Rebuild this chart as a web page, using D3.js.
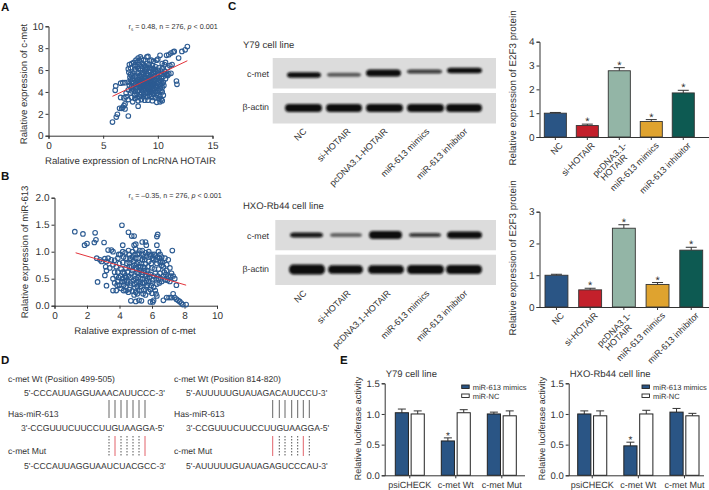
<!DOCTYPE html>
<html><head><meta charset="utf-8">
<script src="https://cdn.jsdelivr.net/npm/d3@7"></script>
<style>
html,body{margin:0;padding:0;background:#fff}
svg{display:block}
text{font-family:"Liberation Sans",Arial,sans-serif;fill:#333;text-rendering:geometricPrecision}
.axis path,.axis line{stroke:#333;stroke-width:1}
</style></head><body><svg id="c" width="709" height="490"></svg>
<script>
const scatterA=[[5.85,1.25],[6.2,1.7],[6.3,1.95],[7.3,1.8],[6.5,2.5],[6.7,2.5],[7,2.45],[6.9,2.75],[7,2.9],[6.8,2.6],[6.6,3.5],[6.9,3.45],[7.1,3.55],[7.3,3.3],[7.1,3.9],[6.1,4.15],[6.15,4.55],[6.6,4.8],[6.8,4.85],[7,4.85],[7.3,4.2],[7.5,3.9],[12.7,8.15],[12.5,7.85],[12.2,7.7],[11.9,7.1],[11.5,7.7],[11.4,7.65],[11.2,7.55],[11,7.4],[10.8,7.35],[10.2,7.35],[11.7,5],[11.75,4.7],[11.2,5.7],[11,5.65],[11.3,6.5],[11.1,6.4],[10.9,6.2],[10.7,6.7],[8.2,2.7],[7.7,3.1],[8.2,3.2],[8.5,3.3],[8.8,3.25],[9.1,3.25],[9.5,3.2],[9.9,3.05],[10.2,3.1],[10.3,3.3],[7.4,6.5],[7.5,6.2],[7.3,6.1],[7.35,5.8],[7.5,5.6],[7.6,6.6],[7.8,6.7],[8,6.9],[8.2,7.1],[8.4,7.2],[8.5,7],[9,7.2],[9.1,7.25],[9.6,6.8],[9.9,6.9],[10,7],[8.1,6.3],[8.3,6.5],[8.6,6.6],[8.8,6.4],[9.2,6.5],[9.5,6.4],[9.8,6.3],[10.1,6.2],[10.4,6.1],[10.6,5.9],[7.7,5.7],[7.9,5.9],[8.2,5.8],[8.4,6],[8.6,6.1],[8.8,5.9],[9,6.1],[9.3,5.9],[9.6,5.8],[9.8,5.9],[10,5.7],[10.3,5.6],[10.5,5.4],[10.8,5.6],[7.5,5.1],[7.7,5.2],[7.9,5.4],[8.1,5.3],[8.3,5.5],[8.5,5.4],[8.7,5.6],[8.9,5.3],[9.1,5.5],[9.3,5.4],[9.5,5.3],[9.7,5.4],[9.9,5.2],[10.1,5.3],[10.3,5],[10.5,4.9],[7.4,4.6],[7.6,4.5],[7.8,4.8],[8,4.7],[8.2,4.9],[8.4,5],[8.5,4.7],[8.7,4.9],[8.8,4.6],[8.9,5],[9,4.8],[9.1,4.6],[9.2,5],[9.3,4.7],[9.4,4.9],[9.5,4.5],[9.6,4.8],[9.7,5],[9.8,4.6],[9.9,4.8],[10,4.5],[10.2,4.7],[10.4,4.4],[7.6,4.1],[7.8,4.2],[8,4.3],[8.2,4.1],[8.4,4.4],[8.5,4.2],[8.6,4.5],[8.8,4.3],[8.9,4.1],[9,4.4],[9.1,4.2],[9.2,4.5],[9.3,4.3],[9.4,4],[9.5,4.2],[9.7,4.3],[9.8,4],[10,4.1],[10.2,4.3],[10.4,4],[10.5,3.7],[7.9,3.7],[8.1,3.8],[8.3,3.6],[8.5,3.9],[8.7,3.8],[8.9,3.6],[9,3.9],[9.2,3.7],[9.4,3.6],[9.6,3.8],[9.8,3.5],[10,3.7],[10.2,3.6],[7.6,3.5],[7.9,3.4],[10.4,3.2],[8.6,5.1],[8.8,5.2],[9.2,5.2],[9.4,5.6],[9,5.7],[8.3,5.1],[8,5],[7.3,4.9],[10.7,5.2],[10.9,5.5],[10.6,6.5],[10.4,6.6],[9.4,6.9],[8.7,6.9],[8.1,6.7],[7.6,4.9],[10.3,5.9],[10.1,5.6],[9.6,6.1],[9.3,6.2],[8.9,6.3],
[8.65,4.95],[8.75,4.75],[8.85,4.85],[8.95,4.55],[9.05,5.05],[9.15,4.75],[9.25,4.85],[9.35,4.55],[9.45,5.05],[9.55,4.65],[9.65,4.95],[9.75,4.55],[8.55,4.45],[8.65,4.25],[8.75,4.55],[8.85,4.35],[9.05,4.45],[9.15,4.35],[9.25,4.15],[9.35,4.45],[9.45,4.25],[9.55,4.35],[8.25,4.55],[8.35,4.75],[8.45,4.35],[8.05,4.45],[8.15,5.15],[8.35,5.35],[8.55,5.25],[8.75,5.45],[8.95,5.65],[9.15,5.25],[9.35,5.15],[9.55,5.55],[9.75,5.15],[9.95,5.45],[10.15,5.05],[10.25,4.55],[10.05,4.85],[9.85,4.35],[10.35,5.25],[7.95,6.1],[8.25,6.15],[8.55,5.75],[8.85,6.1],[9.15,5.85],[9.45,6.15],[9.75,6.05],[10.05,5.95],[8.1,3.5],[8.4,3.75],[8.65,3.55],[9.05,3.55],[9.3,3.95],[9.55,3.5],[9.9,3.85],[10.1,3.4],[7.55,4.35],[7.75,4.55],[7.95,4.05],[7.45,5.35],[7.65,5.45],[8.5,6.35],[9,6.6],[9.25,6.85],[8.3,6.85],[7.9,6.45],[10.3,4.15],[10.55,4.6],[10.4,4.75],[10.65,5.65]];
const lineA=[[5.85,3.6],[12.7,6.85]];
const scatterB=[[1.25,1.37],[1.75,1.33],[1.85,1.12],[2,1.15],[2.45,1.17],[2.5,1.35],[2.55,1.22],[3.05,1.17],[4.15,1.49],[4.55,1.36],[4.75,1.29],[4.9,1.29],[6.3,1.28],[6.35,1.32],[5.6,1.18],[5.4,1.18],[5.65,1.12],[6.3,1.12],[4.9,1.12],[5,1.14],[4.2,1.12],[7.25,1.02],[2.65,0.44],[3.2,0.37],[3.6,0.28],[3.8,0.28],[4.7,0.09],[5,0.08],[5.2,0.1],[5.35,0.09],[5.9,0.07],[6.05,0.07],[6.1,0.1],[6.3,0.18],[6.7,0.1],[6.9,0.15],[7.05,0.15],[7.2,0.15],[7.3,0.22],[7.5,0.12],[7.6,0.1],[7.7,0.08],[7.8,0.05],[7.9,0.02],[8.1,0.02],[7.4,0.15],[2.6,0.88],[2.8,0.85],[2.9,0.82],[3.1,0.87],[3.3,0.88],[3.3,1.03],[3.5,1.03],[3.6,1],[3.15,0.72],[3.1,0.56],[3.2,0.65],[3.4,0.7],[3.6,0.76],[3.7,0.84],[3.9,0.88],[4.05,0.95],[4.2,1],[4.4,0.88],[4.6,0.8],[4.8,1],[5,1.05],[5.2,0.97],[5.4,1.02],[5.6,0.98],[5.8,1],[6,0.95],[6.2,0.92],[6.4,1],[6.6,0.9],[6.8,0.88],[7,0.85],[6.5,0.8],[6.7,0.72],[6.9,0.76],[7.1,0.7],[7.2,0.6],[7.3,0.55],[7.4,0.5],[7.5,0.38],[7,0.55],[6.8,0.48],[6.6,0.45],[6.4,0.5],[6.2,0.6],[6,0.7],[5.8,0.82],[5.6,0.78],[5.4,0.85],[5.2,0.8],[5,0.88],[4.8,0.9],[4.6,0.95],[4.2,0.8],[4,0.78],[3.8,0.72],[3.7,0.62],[3.6,0.5],[3.8,0.55],[3.9,0.45],[3.7,0.42],[4,0.38],[4.1,0.32],[4.2,0.5],[4.3,0.6],[4.4,0.7],[4.5,0.42],[4.6,0.3],[4.7,0.52],[4.8,0.65],[4.9,0.75],[5,0.5],[5.1,0.35],[5,0.25],[4.8,0.27],[5.2,0.6],[5.3,0.72],[5.4,0.42],[5.5,0.3],[5.6,0.55],[5.7,0.65],[5.8,0.45],[5.9,0.3],[5.6,0.2],[5.2,0.28],[6,0.42],[6.1,0.55],[6.2,0.28],[6.3,0.78],[6.4,0.68],[6.5,0.6],[6.6,0.75],[6.7,0.55],[6.1,0.85],[5.9,0.92],[5.5,0.9],[5.1,0.95],[4.7,0.85],[4.5,0.62],[4.1,0.68],[4.3,0.45],[4.4,0.35],[4.9,0.4],[5.3,0.5],[5.1,0.62],[5.5,0.65],[5.7,0.5],[5.9,0.58],[6,0.23],[5.8,0.26],[4.2,0.62],[3.9,0.62],[4.6,0.72],[5,0.7],[5.4,0.58],[5.7,0.38],[5.3,0.36],[4.7,0.42],[4.4,0.52],[6.3,0.4],[6.5,0.95],[7.1,0.45],[6.9,0.65],[3.5,0.85],[3.2,0.82],[5.2,0.45],[4.9,0.55],
[4.45,0.46],[4.55,0.55],[4.65,0.38],[4.75,0.6],[4.85,0.47],[4.95,0.33],[5.05,0.43],[5.15,0.52],[5.25,0.4],[5.35,0.62],[5.45,0.5],[5.55,0.42],[5.65,0.35],[5.75,0.6],[5.85,0.52],[5.95,0.37],[6.05,0.48],[4.25,0.38],[4.35,0.55],[4.15,0.44],[4.05,0.55],[3.95,0.52],[3.85,0.38],[4.85,0.82],[4.95,0.95],[5.05,0.78],[5.15,0.88],[5.25,1.02],[5.35,0.78],[5.45,0.95],[5.55,0.85],[5.65,0.92],[5.75,0.72],[5.85,0.95],[5.95,0.78],[6.05,0.88],[6.15,0.95],[6.25,0.85],[6.35,0.9],[6.45,0.88],[6.55,0.82],[6.65,0.8],[4.65,0.88],[4.55,1.02],[4.75,0.72],[4.45,0.78],[4.25,0.9],[4.35,0.98],[3.95,0.95],[6.15,0.68],[6.25,0.5],[6.35,0.55],[6.45,0.42],[6.55,0.5],[6.75,0.62],[6.85,0.58],[6.95,0.47],[7.15,0.55],[5.05,0.68],[5.15,0.72],[5.25,0.66],[5.45,0.72],[5.55,0.7],[5.65,0.46],[5.35,0.28],[5.45,0.22],[4.55,0.25],[4.4,0.28],[4.25,0.28],[6.1,0.34],[6.25,0.22],[5.1,0.22],[4.9,0.2]];
const lineB=[[1.3,0.98],[8.1,0.38]];
const groups=["NC","si-HOTAIR","pcDNA3.1-HOTAIR","miR-613 mimics","miR-613 inhibitor"];
const barLabels=[["NC"],["si-HOTAIR"],["pcDNA3.1-","HOTAIR"],["miR-613 mimics"],["miR-613 inhibitor"]];
const barColors=["#2a5585","#c3202b","#93b5a6","#dfa32f","#0d5a52"];
const y79Values=[1.0,0.48,2.78,0.65,1.85];
const y79Errors=[0.03,0.06,0.13,0.08,0.11];
const y79Stars=[false,true,true,true,true];
const hxoValues=[1.0,0.54,2.48,0.71,1.79];
const hxoErrors=[0.03,0.05,0.11,0.06,0.09];
const y79Met=[{l:287,r:321,h:5.5,c:75,o:1},{l:327,r:361,h:4,c:74.7,o:.6},{l:366,r:401,h:7,c:73,o:1},{l:407,r:442,h:4,c:71.5,o:.8},{l:447,r:482,h:5.5,c:70.5,o:1}];
const y79Act=[{l:285,r:322,h:8,c:108,o:1},{l:326,r:362,h:8,c:108,o:1},{l:366,r:403,h:8,c:108,o:1},{l:407,r:444,h:8,c:108,o:1},{l:446,r:482,h:8,c:108,o:1}];
const hxoMet=[{l:290,r:323,h:5,c:235,o:.95},{l:330,r:362,h:4,c:235,o:.55},{l:369,r:402,h:8,c:235,o:1},{l:409,r:441,h:4,c:235,o:.8},{l:447,r:482,h:7,c:235,o:1}];
const hxoAct=[{l:289,r:325,h:10,c:269.5,o:1},{l:328,r:363,h:8.5,c:269.5,o:1},{l:368,r:404,h:8.5,c:269.5,o:1},{l:407,r:444,h:9,c:269.5,o:1},{l:446,r:482,h:9,c:269.5,o:1}];
const lucGroups=["psiCHECK","c-met Wt","c-met Mut"];
const lucY79=[1.02,1.0,0.56,1.02,1.0,0.97];
const lucY79Err=[0.06,0.05,0.05,0.05,0.03,0.08];
const lucHxo=[1.0,0.97,0.48,1.0,1.03,0.97];
const lucHxoErr=[0.05,0.08,0.06,0.06,0.06,0.04];
const lucSeries=["miR-613 mimics","miR-NC"];
const lucColors=["#2a5585","#fff"];

const svg=d3.select("#c");
const defs=svg.append("defs");
defs.append("filter").attr("id","blur").attr("x","-20%").attr("y","-80%").attr("width","140%").attr("height","260%").append("feGaussianBlur").attr("stdDeviation","0.9");

function txt(x,y,s,size,opt={}){
  const t=svg.append("text").attr("x",x).attr("y",y).attr("font-size",size).text(s);
  if(opt.anchor)t.attr("text-anchor",opt.anchor);
  if(opt.weight)t.attr("font-weight",opt.weight);
  if(opt.rot!==undefined)t.attr("transform",`rotate(${opt.rot},${x},${y})`);
  return t;
}
[["A",1,11],["B",1,180],["C",228,10],["D",1,364],["E",340,364]].forEach(d=>txt(d[1],d[2],d[0],11.5,{weight:"bold"}).style("fill","#111"));

function scatter(o){
  const x=d3.scaleLinear().domain(o.xd).range(o.xr),y=d3.scaleLinear().domain(o.yd).range(o.yr);
  svg.append("g").attr("class","axis").attr("transform",`translate(0,${o.yr[0]})`).call(d3.axisBottom(x).tickValues(o.xt).tickSize(3).tickPadding(3).tickFormat(o.xf||d3.format("d"))).call(s=>s.selectAll("text").attr("font-size",10));
  svg.append("g").attr("class","axis").attr("transform",`translate(${o.xr[0]},0)`).call(d3.axisLeft(y).tickValues(o.yt).tickSize(3).tickPadding(2).tickFormat(o.yf)).call(s=>s.selectAll("text").attr("font-size",10));
  svg.append("g").selectAll("circle").data(o.pts).join("circle").attr("cx",d=>x(d[0])).attr("cy",d=>y(d[1])).attr("r",2.3).attr("fill","none").attr("stroke","#2c5b92").attr("stroke-width",1.1);
  svg.append("path").attr("d",d3.line().x(d=>x(d[0])).y(d=>y(d[1]))(o.line)).attr("stroke","#e2333b").attr("stroke-width",1).attr("fill","none");
  txt(o.xlab[0],o.xlab[1],o.xlab[2],9.65,{anchor:"middle"});
  txt(o.ylab[0],o.ylab[1],o.ylab[2],9.55,{anchor:"middle",rot:-90});
  const t=txt(o.stat[0],o.stat[1],"r",7.2);
  t.append("tspan").attr("font-size",4.5).attr("dy",1.5).text("s");
  t.append("tspan").attr("dy",-1.5).text(o.stat[2]+", n = 276, ");
  t.append("tspan").attr("font-style","italic").text("p");
  t.append("tspan").text(" < 0.001");
}
scatter({xd:[0,15],xr:[48.5,212.5],yd:[0,10],yr:[135.7,26.3],xt:[0,5,10,15],yt:[0,2,4,6,8,10],yf:d3.format("d"),pts:scatterA,line:lineA,xlab:[130.5,163.5,"Ralative expression of LncRNA HOTAIR"],ylab:[27,84,"Ralative expression of c-met"],stat:[128.5,29," = 0.48"]});
scatter({xd:[0,10],xr:[54.5,217],yd:[0,2],yr:[305.7,197.7],xt:[0,2,4,6,8,10],yt:[0,0.5,1,1.5,2],yf:d3.format(".1f"),pts:scatterB,line:lineB,xlab:[135,333.5,"Ralative expression of c-met"],ylab:[28,252,"Ralative expression of miR-613"],stat:[128.5,198," = –0.35"]});

function blot(o){
  svg.append("rect").attr("x",o.x0).attr("width",496-o.x0).attr("y",o.y1).attr("height",o.h).attr("fill","#dcdcdc");
  svg.append("rect").attr("x",o.x0).attr("width",496-o.x0).attr("y",o.y2).attr("height",o.h).attr("fill","#dcdcdc");
  [o.met,o.act].forEach(b=>svg.append("g").attr("filter","url(#blur)").selectAll("rect").data(b).join("rect")
    .attr("x",d=>d.l).attr("width",d=>d.r-d.l).attr("y",d=>d.c-d.h/2).attr("height",d=>d.h).attr("rx",4).attr("ry",d=>d.h/2).attr("fill","#0a0a0a").attr("opacity",d=>d.o));
  txt(243,o.ty,o.title,9.5);
  txt(269,o.y1+19,"c-met",8.8,{anchor:"end"});
  txt(269,o.y2+17,"β-actin",8.8,{anchor:"end"});
  groups.forEach((g,i)=>txt(o.lx[i],o.ly,g,9,{anchor:"end",rot:-45}));
}
blot({x0:272.7,y1:58,y2:93,h:30.5,met:y79Met,act:y79Act,title:"Y79 cell line",ty:48,lx:[307,351,388,430,468],ly:132});
blot({x0:275.3,y1:220,y2:254.7,h:30.3,met:hxoMet,act:hxoAct,title:"HXO-Rb44 cell line",ty:209,lx:[307,351,391,430,468],ly:294});

function bars(o){
  const x=d3.scaleBand().domain(groups).range(o.xr).paddingInner(o.pad).paddingOuter(0);
  const y=d3.scaleLinear().domain(o.yd).range(o.yr);
  const yAxis=d3.axisLeft(y).tickValues(d3.range(0,o.yd[1]+1)).tickSize(3).tickPadding(2).tickFormat(d3.format("d"));
  const g=svg.append("g");
  groups.forEach((n,i)=>{
    const cx=x(n)+x.bandwidth()/2,top=y(o.vals[i]),et=y(o.vals[i]+o.errs[i]);
    g.append("path").attr("d",`M${cx},${top}V${et}M${cx-5.5},${et}H${cx+5.5}`).attr("stroke","#333").attr("stroke-width",1).attr("fill","none");
    g.append("rect").attr("x",x(n)).attr("y",top).attr("width",x.bandwidth()).attr("height",o.yr[0]-top).attr("fill",barColors[i]).attr("stroke","#333").attr("stroke-width",.9);
    if(o.stars[i])txt(cx,et+1,"*",11,{anchor:"middle"});
    const lab=barLabels[i];
    const lg=svg.append("g").attr("transform",`translate(${cx+6},${o.yr[0]+7}) rotate(-45)`);
    lab.forEach((s,j)=>lg.append("text").attr("text-anchor","end").attr("x",j==0?0:-8).attr("y",j*8.5+3).attr("font-size",9).text(s));
  });
  const ax=svg.append("g").attr("class","axis").attr("transform",`translate(${o.x0},0)`).call(yAxis);
  ax.selectAll("text").attr("font-size",10);
  svg.append("g").attr("class","axis").attr("transform",`translate(0,${o.yr[0]})`).call(d3.axisBottom(x).tickSize(3).tickFormat("")).call(s=>s.select(".domain").attr("d",`M${o.x0},0.5H709`));
  txt(516,o.labY,"Relative expression of E2F3 protein",9.8,{anchor:"middle",rot:-90});
}
bars({xr:[544.3,694.3],pad:0.31,yd:[0,4],yr:[137,41.7],vals:y79Values,errs:y79Errors,stars:y79Stars,x0:539.5,labY:88});
bars({xr:[545,702.7],pad:0.32,yd:[0,3],yr:[307,211.7],vals:hxoValues,errs:hxoErrors,stars:y79Stars,x0:539.5,labY:258});

function seq(x0,o){
  const fs=8.6;
  txt(x0,381.5,o.title,fs);
  txt(o.sx,395.5,o.s1,fs);
  txt(x0,416.5,"Has-miR-613",fs);
  txt(o.sx3,431,"3'-CCGUUUCUUCCUUGUAAGGA-5'",fs);
  txt(x0,453.5,"c-met Mut",fs);
  txt(o.sx,468.5,o.s2,fs);
  svg.append("g").selectAll("line").data(o.solid).join("line").attr("x1",d=>d).attr("x2",d=>d).attr("y1",400).attr("y2",418).attr("stroke","#666").attr("stroke-width",1);
  svg.append("g").selectAll("line").data(o.dots).join("line").attr("x1",d=>d).attr("x2",d=>d).attr("y1",436).attr("y2",456).attr("stroke","#555").attr("stroke-width",1).attr("stroke-dasharray","1.5 1.5");
  svg.append("g").selectAll("line").data(o.red).join("line").attr("x1",d=>d).attr("x2",d=>d).attr("y1",436).attr("y2",456).attr("stroke","#e2636b").attr("stroke-width",1);
}
seq(8,{title:"c-met Wt (Position 499-505)",sx:24,sx3:21,s1:"5'-CCCAUUAGGUAAACAUUCCC-3'",s2:"5'-CCCAUUAGGUAAUCUACGCC-3'",solid:[109,115,121,127,133,139,145],dots:[109,121,127,133,139],red:[115,145]});
seq(174,{title:"c-met Wt (Position 814-820)",sx:186,sx3:186,s1:"5'-AUUUUUGUAUAGACAUUCCU-3'",s2:"5'-AUUUUUGUAUAGAGUCCCAU-3'",solid:[272.7,279.3,285,291.7,297.7,303.3,309.3],dots:[279.3,285,291.7,297.7,309.3],red:[272.7,303.3]});

function luc(o){
  const x=d3.scaleBand().domain(lucGroups).range(o.xr).paddingInner(0.37).paddingOuter(0);
  const inner=d3.scaleBand().domain(lucSeries).range([0,x.bandwidth()]).paddingInner(0.17);
  const y=d3.scaleLinear().domain([0,1.5]).range([475.3,383.3]);
  lucGroups.forEach((g,i)=>lucSeries.forEach((s,j)=>{
    const v=o.vals[i*2+j],e=o.errs[i*2+j],bx=x(g)+inner(s),cx=bx+inner.bandwidth()/2;
    svg.append("path").attr("d",`M${cx},${y(v)}V${y(v+e)}M${cx-4},${y(v+e)}H${cx+4}`).attr("stroke","#333").attr("fill","none");
    svg.append("rect").attr("x",bx).attr("y",y(v)).attr("width",inner.bandwidth()).attr("height",475.3-y(v)).attr("fill",lucColors[j]).attr("stroke","#222").attr("stroke-width",1);
    if(i==1&&j==0)txt(cx,y(v+e)+1,"*",10,{anchor:"middle"});
  }));
  svg.append("g").attr("class","axis").attr("transform",`translate(${o.x0},0)`).call(d3.axisLeft(y).tickValues([0,0.5,1,1.5]).tickSize(3).tickPadding(2).tickFormat(d3.format(".1f"))).call(s=>s.selectAll("text").attr("font-size",9.5));
  svg.append("g").attr("class","axis").attr("transform","translate(0,475.3)").call(d3.axisBottom(x).tickSize(3).tickPadding(3)).call(s=>{s.select(".domain").attr("d",`M${o.x0},0.5H${o.xEnd}`);s.selectAll("text").attr("font-size",9);});
  txt(o.x0+1,377,o.title,9.5);
  txt(o.x0-24,428.5,"Relative luciferase activity",9,{anchor:"middle",rot:-90});
  lucSeries.forEach((s,j)=>{
    svg.append("rect").attr("x",o.legX).attr("y",385+j*9).attr("width",7.5).attr("height",3.5).attr("fill",lucColors[j]).attr("stroke","#222").attr("stroke-width",.9);
    txt(o.legX+11,389.5+j*9,s,7.5);
  });
}
luc({xr:[395.3,516.3],vals:lucY79,errs:lucY79Err,x0:384.7,xEnd:525,title:"Y79 cell line",legX:461.7});
luc({xr:[577.7,699],vals:lucHxo,errs:lucHxoErr,x0:568.7,xEnd:704,title:"HXO-Rb44 cell line",legX:642});
</script></body></html>
